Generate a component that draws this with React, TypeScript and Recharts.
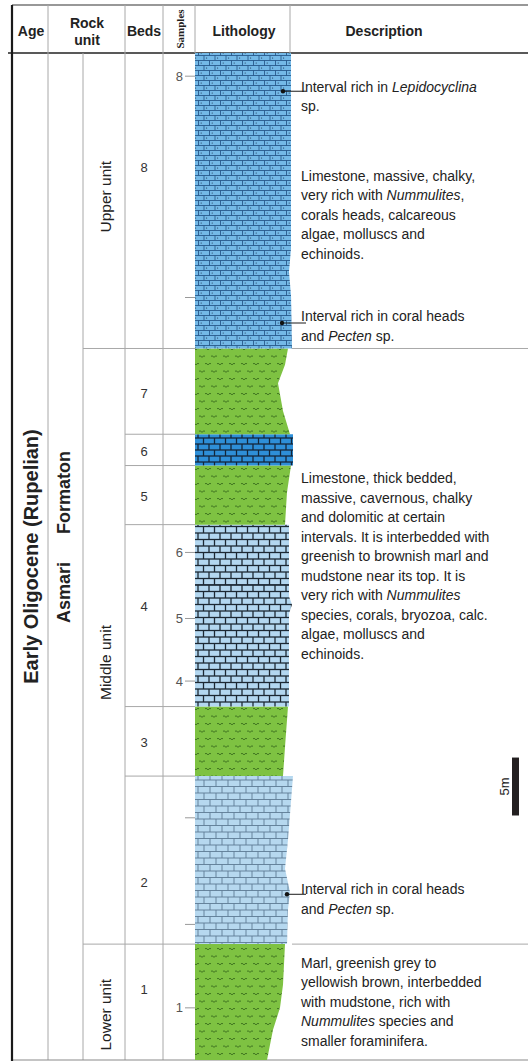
import React from "react";
import {
  ComposedChart,
  Area,
  XAxis,
  YAxis,
  ReferenceLine,
  ReferenceArea,
} from "recharts";

const SANS = "'Liberation Sans', Arial, Helvetica, sans-serif";
const SERIF = "'Liberation Serif', 'Times New Roman', serif";
const INK = "#222222";
const RULE = "#a8a8a8";

const WIDTH = 528;
const HEIGHT = 1062;

// table columns (px)
const X_LEFT = 12;
const X_AGE = 48;
const X_FM = 83;
const X_BEDS = 125;
const X_SAMPLES = 163;
const X_LITHO = 195;
const X_DESC = 290;
const X_TEXT = 301;
const HEAD_TOP = 5;
const HEAD_BOTTOM = 53;
const LITHO_WIDTH = 105;
const LINE_H = 19.5;

// section thickness (m above base) and weathering-profile range
const SECTION_TOP = 86.9;
const PROFILE_MAX = 10.5;

// beds, numbered from the base up; tops in metres above the base
const BED_NAMES = ["1", "2", "3", "4", "5", "6", "7", "8"];
const BED_TOPS = [10, 24.5, 30.5, 46.2, 51.3, 54, 61.4, 86.9];
const BED_LABEL_AT = [6.1, 15.3, 27.4, 39.1, 48.6, 52.5, 57.5, 77];
const BED_ROCK = ["marl", "limestone", "marl", "brick", "marl", "dolomite", "marl", "nummulitic"];

// right edge of the weathering profile per bed: [height, index]
const PROFILE_1 = [[0, 7.2], [2.6, 7.8], [4.5, 8.5], [6.5, 8.8], [10, 9.0]];
const PROFILE_2 = [[10, 9.2], [13, 9.3], [14.5, 9.5], [16.5, 9.0], [19, 9.3], [24.5, 9.8]];
const PROFILE_3 = [[24.5, 8.8], [27, 9.0], [30.5, 9.3]];
const PROFILE_4 = [[30.5, 9.4], [38.5, 9.4], [39.3, 9.7], [40, 9.4], [46.2, 9.4]];
const PROFILE_5 = [[46.2, 9.0], [49, 9.2], [51.3, 9.6]];
const PROFILE_6 = [[51.3, 9.8], [54, 9.8]];
const PROFILE_7 = [[54, 9.5], [56, 8.8], [58.4, 8.3], [60, 9.0], [61.4, 9.3]];
const PROFILE_8 = [[61.4, 9.7], [66, 9.6], [68, 9.4], [70, 9.6], [86.9, 9.6]];

// thin contact inside bed 4
const MINOR_CONTACTS = [41.0];
const MINOR_CONTACT_EDGE = [9.4];

const UNIT_NAMES = ["Lower unit", "Middle unit", "Upper unit"];
const UNIT_TOPS = [10, 61.4, 86.9];
const UNIT_LABEL_AT = [3.9, 34.3, 74.5];

const SAMPLE_AT = [4.5, 11.7, 20.9, 32.7, 38.1, 43.8, 65.8, 84.9];
const SAMPLE_LABELS = ["1", "", "", "4", "5", "6", "", "8"];

// description blocks: height of the first line, lines (*...* = italic)
const NOTE_AT = [84.0, 76.3, 64.2, 50.2, 14.75, 8.4];
const NOTE_LINES = [
  ["Interval rich in *Lepidocyclina*", "sp."],
  [
    "Limestone, massive, chalky,",
    "very rich with *Nummulites*,",
    "corals heads, calcareous",
    "algae, molluscs and",
    "echinoids.",
  ],
  ["Interval rich in coral heads", "and *Pecten* sp."],
  [
    "Limestone, thick bedded,",
    "massive, cavernous, chalky",
    "and dolomitic at certain",
    "intervals. It is interbedded with",
    "greenish to brownish marl and",
    "mudstone near its top. It is",
    "very rich with *Nummulites*",
    "species, corals, bryozoa, calc.",
    "algae, molluscs and",
    "echinoids.",
  ],
  ["Interval rich in coral heads", "and *Pecten* sp."],
  [
    "Marl, greenish grey to",
    "yellowish brown, interbedded",
    "with mudstone, rich with",
    "*Nummulites* species and",
    "smaller foraminifera.",
  ],
];

// pointers from the column to the notes
const POINTER_AT = [83.6, 63.6, 14.3];
const POINTER_TIP = [8.8, 8.7, 9.2];
const POINTER_END = 11.1;

// 5 m scale bar
const SCALE_FROM = 21.1;
const SCALE_LENGTH = 5;

const PROFILES = [PROFILE_1, PROFILE_2, PROFILE_3, PROFILE_4, PROFILE_5, PROFILE_6, PROFILE_7, PROFILE_8];

function Brick({ id, w, h, sw, mortar, brick }: any) {
  const r = h / 2;
  return (
    <pattern id={id} width={w} height={h} patternUnits="userSpaceOnUse">
      <rect width={w} height={h} fill={mortar} />
      <rect x={sw / 2} y={sw / 2} width={w - sw} height={r - sw} fill={brick} />
      <rect x={-w / 2 + sw / 2} y={r + sw / 2} width={w - sw} height={r - sw} fill={brick} />
      <rect x={w / 2 + sw / 2} y={r + sw / 2} width={w - sw} height={r - sw} fill={brick} />
    </pattern>
  );
}

function Patterns() {
  const wave = "q1 -1.6 2 0t2 0t2 0";
  return (
    <defs>
      <pattern id="nummulitic" width={11} height={10} patternUnits="userSpaceOnUse">
        <rect width={11} height={10} fill="#74b9e7" />
        <path d="M0 0.5H11M0 5.5H11M0.5 0.5V5.5M6 5.5V10" stroke="#245487" strokeWidth={0.85} fill="none" />
        <circle cx={3.2} cy={3} r={0.6} fill="#1b3552" />
        <circle cx={8.6} cy={8} r={0.6} fill="#1b3552" />
      </pattern>
      <Brick id="limestone" w={12} h={13} sw={0.9} mortar="#5d7a95" brick="#b6d8ef" />
      <Brick id="brick" w={11} h={13} sw={1.3} mortar="#1c2833" brick="#b3d7f0" />
      <Brick id="dolomite" w={11} h={12} sw={1.3} mortar="#13263a" brick="#2e8fd8" />
      <pattern id="marl" width={24} height={15} patternUnits="userSpaceOnUse">
        <rect width={24} height={15} fill="#7ec242" />
        <path
          d={`M1 4${wave}M13 4${wave}M7 11.5${wave}M19 11.5${wave}M-5 11.5${wave}`}
          fill="none"
          stroke="#2f5e17"
          strokeWidth={0.8}
        />
      </pattern>
    </defs>
  );
}

function RichLine({ x, y, text }: any) {
  const parts = text.split("*");
  return (
    <text x={x} y={y} dominantBaseline="central" fontFamily={SANS} fontSize={14} fill={INK}>
      {parts.map((t: string, i: number) => (
        <tspan key={i} fontStyle={i % 2 ? "italic" : "normal"}>
          {t}
        </tspan>
      ))}
    </text>
  );
}

function Header() {
  const head = { fontFamily: SANS, fontSize: 14, fontWeight: "bold", fill: INK, textAnchor: "middle", dominantBaseline: "central" } as any;
  return (
    <g>
      <line x1={X_LEFT} x2={WIDTH} y1={HEAD_TOP} y2={HEAD_TOP} stroke="#333" strokeWidth={1.2} />
      <line x1={8} x2={WIDTH} y1={HEAD_BOTTOM} y2={HEAD_BOTTOM} stroke="#222" strokeWidth={1.6} />
      {[X_LITHO, X_DESC].map((x) => (
        <line key={x} x1={x} x2={x} y1={HEAD_TOP} y2={HEAD_BOTTOM} stroke={RULE} />
      ))}
      <text x={31} y={31} {...head}>Age</text>
      <text x={87} y={23} {...head}>Rock</text>
      <text x={87} y={40} {...head}>unit</text>
      <text x={144} y={31} {...head}>Beds</text>
      <text x={244} y={31} {...head}>Lithology</text>
      <text x={384} y={31} {...head}>Description</text>
      <text
        transform="translate(180 29) rotate(-90)"
        fontFamily={SERIF}
        fontWeight="bold"
        fontSize={11}
        fill={INK}
        textAnchor="middle"
        dominantBaseline="central"
      >
        Samples
      </text>
    </g>
  );
}

function Frame({ top, bottom }: any) {
  const mid = (top + bottom) / 2;
  const rotated = { fontFamily: SANS, fontWeight: "bold", fill: INK, textAnchor: "middle", dominantBaseline: "central" } as any;
  return (
    <g>
      {[X_AGE, X_BEDS, X_SAMPLES].map((x) => (
        <line key={x} x1={x} x2={x} y1={HEAD_TOP} y2={bottom} stroke={RULE} />
      ))}
      <line x1={X_FM} x2={X_FM} y1={top} y2={bottom} stroke={RULE} />
      <line x1={X_LEFT} x2={WIDTH} y1={bottom} y2={bottom} stroke="#8a8a8a" strokeWidth={1.2} />
      <line x1={X_LEFT} x2={X_LEFT} y1={HEAD_TOP} y2={bottom + 1} stroke="#1a1a1a" strokeWidth={2.2} />
      <text transform={`translate(31 ${mid}) rotate(-90)`} fontSize={20} {...rotated}>
        Early Oligocene (Rupelian)
      </text>
      <text transform={`translate(64 ${mid - 64}) rotate(-90)`} fontSize={18} {...rotated}>
        Formaton
      </text>
      <text transform={`translate(64 ${mid + 36}) rotate(-90)`} fontSize={18} {...rotated}>
        Asmari
      </text>
    </g>
  );
}

export default function App() {
  const profiles = PROFILES.map((p) => p.map(([h, w]) => ({ h, w })));
  const contacts = BED_TOPS.slice(0, -1);

  return (
    <div style={{ position: "absolute", left: 0, top: 0, width: WIDTH, height: HEIGHT, background: "#fff" }}>
      <ComposedChart
        layout="vertical"
        width={WIDTH}
        height={HEIGHT}
        margin={{ top: HEAD_BOTTOM, right: WIDTH - X_LITHO - LITHO_WIDTH, bottom: 2, left: X_LITHO }}
      >
        <Patterns />
        <Header />
        <XAxis type="number" dataKey="w" domain={[0, PROFILE_MAX]} allowDataOverflow hide />
        <YAxis type="number" dataKey="h" domain={[0, SECTION_TOP]} allowDataOverflow reversed hide />

        <ReferenceArea
          y1={0}
          y2={SECTION_TOP}
          ifOverflow="visible"
          shape={(p: any) => <Frame top={p.y} bottom={p.y + p.height} />}
        />

        {profiles.map((data, i) => (
          <Area
            key={BED_NAMES[i]}
            data={data}
            dataKey="w"
            type="linear"
            fill={`url(#${BED_ROCK[i]})`}
            fillOpacity={1}
            stroke="none"
            dot={false}
            activeDot={false}
            isAnimationActive={false}
          />
        ))}

        {MINOR_CONTACTS.map((h, i) => (
          <ReferenceLine
            key={`minor-${h}`}
            segment={[{ x: 0, y: h }, { x: MINOR_CONTACT_EDGE[i], y: h }]}
            ifOverflow="visible"
            stroke="#1b2733"
            strokeWidth={1.3}
          />
        ))}

        {contacts.map((h) => {
          const unit = UNIT_TOPS.includes(h);
          return (
            <ReferenceLine
              key={`contact-${h}`}
              y={h}
              ifOverflow="visible"
              shape={(p: any) =>
                unit ? (
                  <g stroke={RULE}>
                    <line x1={X_FM} x2={X_LITHO} y1={p.y1} y2={p.y1} />
                    <line x1={X_DESC + 2} x2={WIDTH} y1={p.y1} y2={p.y1} />
                  </g>
                ) : (
                  <line x1={X_BEDS} x2={X_LITHO} y1={p.y1} y2={p.y1} stroke={RULE} />
                )
              }
            />
          );
        })}

        {BED_NAMES.map((name, i) => (
          <ReferenceLine
            key={`bed-${name}`}
            y={BED_LABEL_AT[i]}
            ifOverflow="visible"
            shape={(p: any) => (
              <text x={144} y={p.y1} fontFamily={SANS} fontSize={13} fill="#333" textAnchor="middle" dominantBaseline="central">
                {name}
              </text>
            )}
          />
        ))}

        {UNIT_NAMES.map((name, i) => (
          <ReferenceLine
            key={name}
            y={UNIT_LABEL_AT[i]}
            ifOverflow="visible"
            shape={(p: any) => (
              <text
                transform={`translate(105 ${p.y1}) rotate(-90)`}
                fontFamily={SANS}
                fontSize={15.5}
                fill={INK}
                textAnchor="middle"
                dominantBaseline="central"
              >
                {name}
              </text>
            )}
          />
        ))}

        {SAMPLE_AT.map((h, i) => (
          <ReferenceLine
            key={`sample-${h}`}
            y={h}
            ifOverflow="visible"
            shape={(p: any) => (
              <g>
                <line x1={185} x2={X_LITHO} y1={p.y1} y2={p.y1} stroke="#999" />
                <text x={183} y={p.y1} fontFamily={SANS} fontSize={13} fill="#555" textAnchor="end" dominantBaseline="central">
                  {SAMPLE_LABELS[i]}
                </text>
              </g>
            )}
          />
        ))}

        {NOTE_AT.map((h, i) => (
          <ReferenceLine
            key={`note-${h}`}
            y={h}
            ifOverflow="visible"
            shape={(p: any) => (
              <g>
                {NOTE_LINES[i].map((t, j) => (
                  <RichLine key={j} x={X_TEXT} y={p.y1 + j * LINE_H} text={t} />
                ))}
              </g>
            )}
          />
        ))}

        {POINTER_AT.map((h, i) => (
          <ReferenceLine
            key={`pointer-${h}`}
            segment={[{ x: POINTER_TIP[i], y: h }, { x: POINTER_END, y: h }]}
            ifOverflow="visible"
            shape={(p: any) => (
              <g>
                <line x1={p.x1} x2={p.x2} y1={p.y1} y2={p.y2} stroke="#1a1a1a" strokeWidth={1} />
                <circle cx={p.x1} cy={p.y1} r={2.2} fill="#111" />
              </g>
            )}
          />
        ))}

        <ReferenceArea
          y1={SCALE_FROM}
          y2={SCALE_FROM + SCALE_LENGTH}
          ifOverflow="visible"
          shape={(p: any) => (
            <g>
              <rect x={512} y={p.y} width={7} height={p.height} fill="#231f20" />
              <text
                transform={`translate(504 ${p.y + p.height / 2}) rotate(-90)`}
                fontFamily={SANS}
                fontSize={13}
                fill={INK}
                textAnchor="middle"
                dominantBaseline="central"
              >
                {`${SCALE_LENGTH}m`}
              </text>
            </g>
          )}
        />
      </ComposedChart>
    </div>
  );
}
